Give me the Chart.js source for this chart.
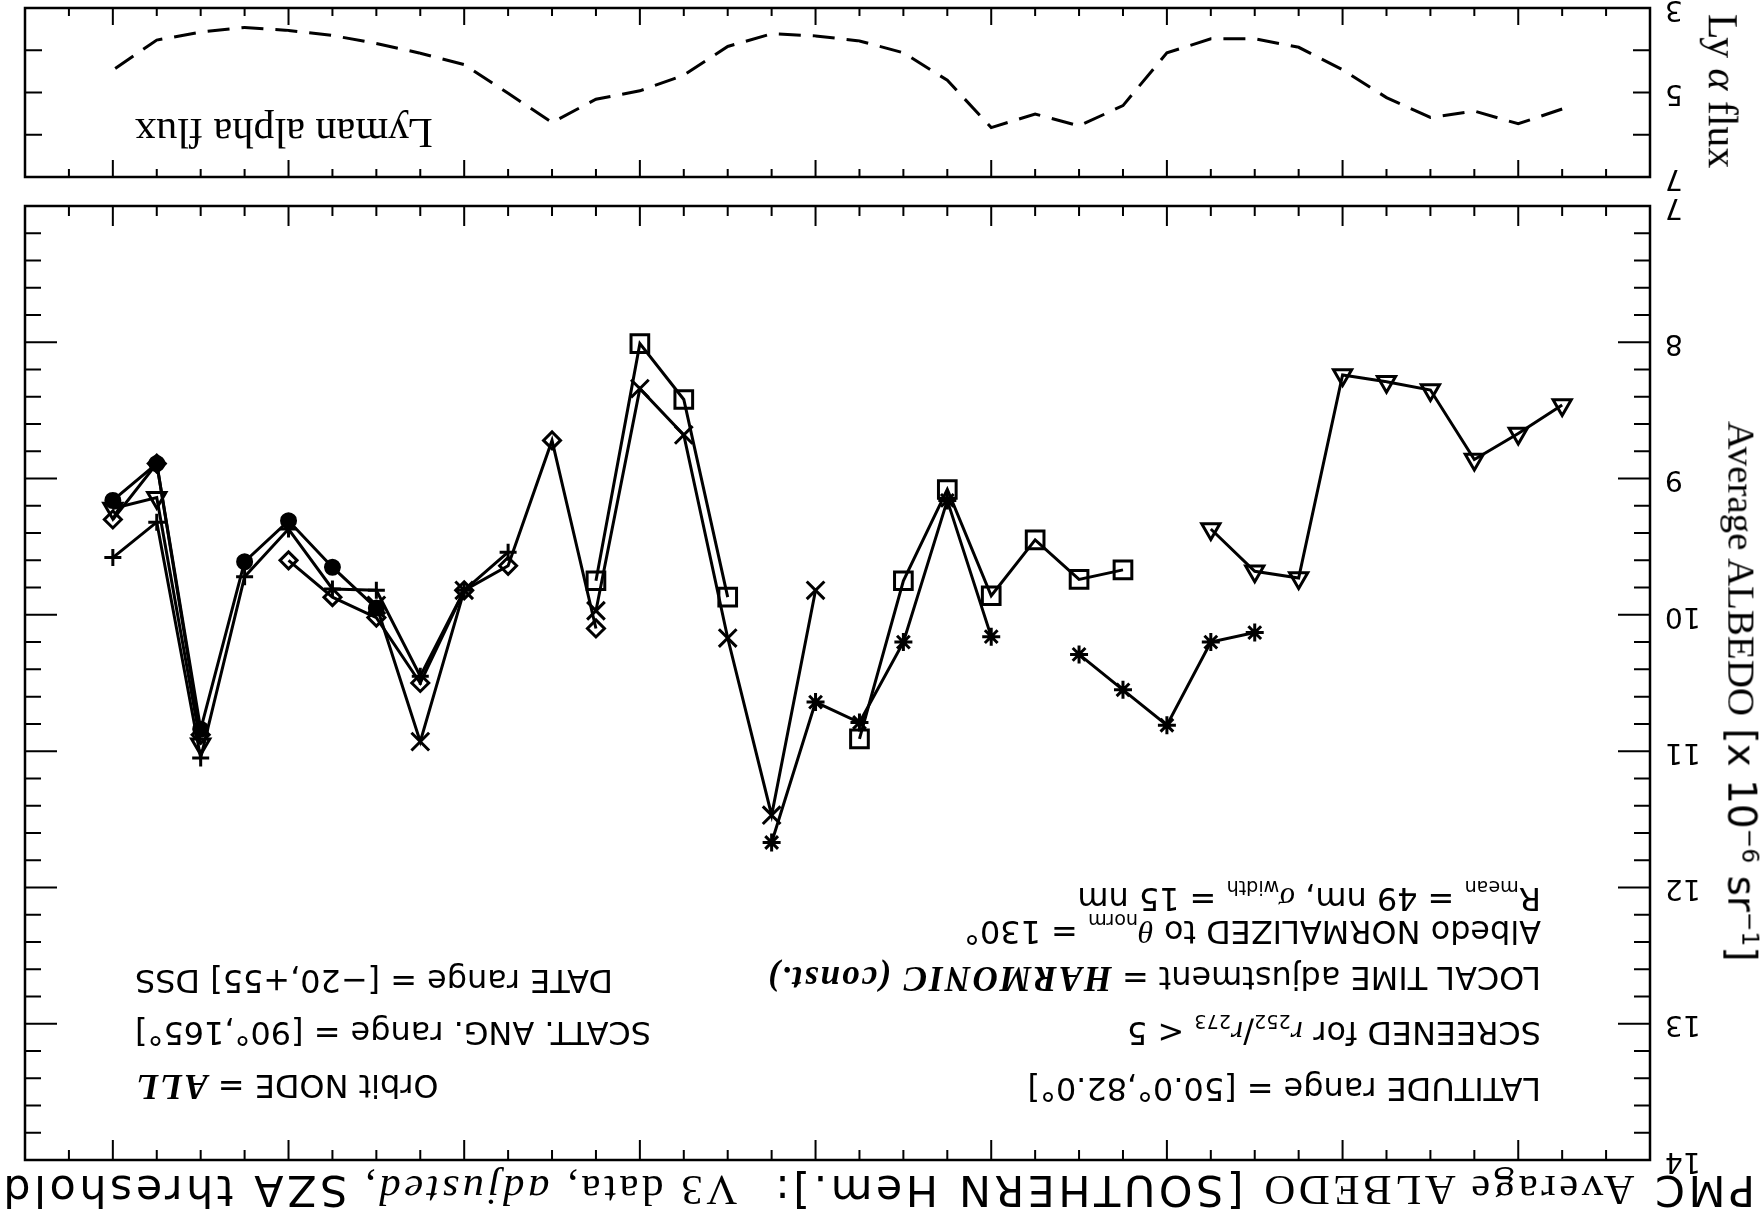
<!DOCTYPE html>
<html lang="en">
<head>
  <meta charset="UTF-8" />
  <title>PMC Average ALBEDO - Southern Hemisphere</title>
  <script src="https://cdn.jsdelivr.net/npm/chart.js"></script>
  <style>
    * { box-sizing: border-box; margin: 0; padding: 0; }
    body { background: #fff; width: 1764px; height: 1217px; overflow: hidden; }
    /* the reference figure is printed upside down, so the whole figure is turned */
    #fig { position: absolute; left: 0; top: 0; width: 1764px; height: 1217px; transform: rotate(180deg); background: #fff; }
    #fig canvas { position: absolute; left: 0; top: 0; }
    .t { position: absolute; white-space: nowrap; line-height: 1; color: #000; font-family: 'DejaVu Sans', sans-serif; }
    .serif { font-family: 'Liberation Serif', serif; }
    .it { font-family: 'Liberation Serif', serif; font-style: italic; }
    .bi { font-family: 'Liberation Serif', serif; font-style: italic; font-weight: bold; font-size: 1.1em; letter-spacing: 0.06em; }
    sub, sup { font-size: 0.6em; line-height: 0; }
    .note { font-size: 30px; }
  </style>
</head>
<body>
  <div id="fig">
    <canvas id="mainChart" width="1764" height="1217"></canvas>
    <canvas id="lyaChart" width="1764" height="1217"></canvas>

    <div class="t" id="title"><span>PMC </span><span class="serif">Average ALBEDO</span><span> [SOUTHERN Hem.]:&nbsp; </span><span class="serif">V3 data, <i>adjusted</i>, </span><span>SZA threshold</span></div>

    <div class="t" id="ytitle" style="font-size:34px"><span class="serif">Average ALBEDO</span> [x 10<sup>−6</sup> sr<sup>−1</sup>]</div>
    <div class="t serif" id="lytitle" style="font-size:34px">Ly <i>α</i> flux</div>

    <div class="t note left" data-y="128" data-w="495">LATITUDE range = [50.0°,82.0°]</div>
    <div class="t note left" data-y="184" data-w="433">SCREENED for <i class="it">r</i><sub>252</sub>/<i class="it">r</i><sub>273</sub> &lt; 5</div>
    <div class="t note left" data-y="236" data-w="753">LOCAL TIME adjustment = <span class="bi">HARMONIC (const.)</span></div>
    <div class="t note left" data-y="285" data-w="536">Albedo NORMALIZED to <i class="it">θ</i><sub>norm</sub> = 130°</div>
    <div class="t note left" data-y="318" data-w="495">R<sub>mean</sub> = 49 nm, <i class="it">σ</i><sub>width</sub> = 15 nm</div>

    <div class="t note right" data-y="128" data-w="287">Orbit NODE = <span class="bi">ALL</span></div>
    <div class="t note right" data-y="184" data-w="517">SCATT. ANG. range = [90°,165°]</div>
    <div class="t note right" data-y="236" data-w="478">DATE range = [−20,+55] DSS</div>

    <div class="t serif" id="lyman" style="font-size:34px">Lyman alpha flux</div>
  </div>

  <script>
    // seasons (year of the southern summer)
    const years = [1979, 1980, 1981, 1982, 1983, 1984, 1985, 1986, 1987, 1988, 1989, 1990,
                   1991, 1992, 1993, 1994, 1995, 1996, 1997, 1998, 1999, 2000, 2001, 2002,
                   2003, 2004, 2005, 2006, 2007, 2008, 2009, 2010, 2011, 2012];

    // Lyman alpha flux, one value per season
    const lyFlux = [5.39, 5.74, 5.44, 5.59, 5.12, 4.46, 3.93, 3.73, 3.73, 4.06, 5.31, 5.79,
                    5.51, 5.83, 4.71, 4.06, 3.78, 3.66, 3.61, 3.91, 4.59, 4.96, 5.16, 5.71,
                    5.02, 4.34, 4.07, 3.84, 3.65, 3.53, 3.46, 3.57, 3.76, 4.47];

    // albedo per instrument: first season + values (null = no data that season)
    const nimbus7Start = 1979;
    const nimbus7 = [8.46, 8.67, 8.86, 8.35, 8.29, 8.24, 9.73, 9.68, 9.37];
    const noaa9Start = 1986;
    const noaa9 = [10.13, 10.20, 10.81, 10.55, 10.29, null, 10.16, 9.16, 10.20, 10.79, 10.64, 11.67];
    const noaa11Start = 1989;
    const noaa11 = [9.67, 9.74, 9.45, 9.86, 9.08, 9.75, 10.91, null, null, 9.87, 8.42, 8.01, 9.75];
    const noaa14Start = 1996;
    const noaa14 = [9.82, 11.47, 10.17, 8.68, 8.34, 9.97, null, null, 9.82, 10.93, 9.93];
    const noaa16Start = 2001;
    const noaa16 = [10.10, 8.72, 9.64, 9.82, 10.50, 10.02, 9.87, 9.60, null, 10.88, 8.89, 9.30];
    const noaa17Start = 2003;
    const noaa17 = [9.54, 9.82, 10.45, 9.82, 9.81, 9.37, 9.72, 11.05, 9.32, 9.58];
    const noaa18Start = 2006;
    const noaa18 = [9.95, 9.65, 9.31, 9.61, 10.84, 8.89, 9.16];
    const noaa19Start = 2010;
    const noaa19 = [10.95, 9.14, 9.22];

    const albedoTicks = [7, 8, 9, 10, 11, 12, 13, 14];
    const lyTicks = [3, 5, 7];

    function series(start, vals, style, radius, filled) {
      return {
        data: vals.map((v, i) => ({ x: start + i, y: v })),
        showLine: true,
        spanGaps: false,
        tension: 0,
        borderColor: '#000',
        borderWidth: 3,
        pointStyle: style,
        pointRadius: radius,
        pointBorderColor: '#000',
        pointBorderWidth: 3,
        pointBackgroundColor: filled ? '#000' : 'rgba(0,0,0,0)'
      };
    }

    // IDL style frame with inward ticks on all four sides
    const frameTicks = {
      id: 'frameTicks',
      afterDatasetsDraw(chart, args, o) {
        const { ctx, chartArea: a } = chart;
        const xs = chart.scales.x, ys = chart.scales.y;
        ctx.save();
        ctx.strokeStyle = '#000';
        ctx.lineWidth = 2;
        ctx.beginPath();
        for (let v = 1978; v <= 2013; v++) {
          const px = xs.getPixelForValue(v);
          const len = (v % 4 === 0) ? o.xMajor : o.xMinor;
          ctx.moveTo(px, a.bottom); ctx.lineTo(px, a.bottom - len);
          ctx.moveTo(px, a.top); ctx.lineTo(px, a.top + len);
        }
        const n = Math.round((ys.max - ys.min) / o.yStep);
        for (let i = 0; i <= n; i++) {
          const py = ys.getPixelForValue(ys.min + i * o.yStep);
          const len = (i % o.yEvery === 0) ? o.yMajor : o.yMinor;
          ctx.moveTo(a.left, py); ctx.lineTo(a.left + len, py);
          ctx.moveTo(a.right, py); ctx.lineTo(a.right - len, py);
        }
        ctx.stroke();
        ctx.lineWidth = 2.5;
        ctx.strokeRect(a.left, a.top, a.right - a.left, a.bottom - a.top);
        ctx.restore();
      }
    };

    function fixAxis(scale) {
      scale.width = 114;
      scale.paddingTop = 0;
      scale.paddingBottom = 0;
    }

    function yAxis(min, max, ticks) {
      return {
        type: 'linear', min: min, max: max,
        afterFit: fixAxis,
        afterBuildTicks: s => { s.ticks = ticks.map(v => ({ value: v })); },
        grid: { display: false, drawTicks: false },
        border: { display: false },
        ticks: { padding: 15, color: '#000', font: { family: 'DejaVu Sans', size: 28 } }
      };
    }

    function baseOptions(pad, yScale, tickOpts) {
      return {
        responsive: false,
        animation: false,
        devicePixelRatio: 1,
        events: [],
        layout: { padding: pad },
        plugins: { legend: { display: false }, tooltip: { enabled: false }, frameTicks: tickOpts },
        scales: {
          x: { type: 'linear', min: 1977, max: 2014, display: false },
          y: yScale
        }
      };
    }

    new Chart(document.getElementById('mainChart'), {
      type: 'scatter',
      data: {
        datasets: [
          series(nimbus7Start, nimbus7, 'triangle', 10.5, false),
          series(noaa9Start, noaa9, 'star', 9, false),
          series(noaa11Start, noaa11, 'rect', 12.5, false),
          series(noaa14Start, noaa14, 'crossRot', 12.5, false),
          series(noaa16Start, noaa16, 'rectRot', 8.5, false),
          series(noaa17Start, noaa17, 'cross', 8.5, false),
          series(noaa18Start, noaa18, 'circle', 7, true),
          series(noaa19Start, noaa19, 'triangle', 10.5, false)
        ]
      },
      options: baseOptions({ left: 0, right: 25, top: 57, bottom: 206 }, yAxis(7, 14, albedoTicks),
        { xMajor: 20, xMinor: 10, yStep: 0.2, yEvery: 5, yMajor: 32, yMinor: 16 }),
      plugins: [frameTicks]
    });

    new Chart(document.getElementById('lyaChart'), {
      type: 'scatter',
      data: {
        datasets: [{
          data: years.map((yr, i) => ({ x: yr, y: lyFlux[i] })),
          showLine: true,
          tension: 0,
          borderColor: '#000',
          borderWidth: 3,
          borderDash: [22, 12],
          pointRadius: 0
        }]
      },
      options: baseOptions({ left: 0, right: 25, top: 1040, bottom: 8 }, yAxis(3, 7, lyTicks),
        { xMajor: 17, xMinor: 8, yStep: 1, yEvery: 1, yMajor: 17, yMinor: 17 }),
      plugins: [frameTicks]
    });

    // ---- text placement ----
    function fit(el, w) {
      const fs = parseFloat(getComputedStyle(el).fontSize);
      return fs * w / el.offsetWidth;
    }

    // title: Hershey-like wide lettering -> smaller font, spread out to full width
    const title = document.getElementById('title');
    const tfs = fit(title, 1755) * 0.86;
    title.style.fontSize = tfs + 'px';
    title.style.letterSpacing = ((1755 - title.offsetWidth) / title.textContent.length) + 'px';
    title.style.left = '9px';
    title.style.top = (26 - 0.48 * tfs) + 'px';

    const notes = Array.from(document.querySelectorAll('.note'));
    const sizes = notes.map(el => fit(el, +el.dataset.w)).sort((a, b) => a - b);
    const nfs = sizes[Math.floor(sizes.length / 2)];
    notes.forEach(el => {
      el.style.fontSize = nfs + 'px';
      el.style.top = (+el.dataset.y - 0.48 * nfs) + 'px';
      if (el.classList.contains('left')) el.style.left = '223px';
      else el.style.right = '135px';
    });

    const lyman = document.getElementById('lyman');
    const lfs = fit(lyman, 298);
    lyman.style.fontSize = lfs + 'px';
    lyman.style.right = '135px';
    lyman.style.top = (1084 - 0.5 * lfs) + 'px';

    function placeRot(el, cx, cy, len) {
      el.style.fontSize = fit(el, len) + 'px';
      const w = el.offsetWidth, h = el.offsetHeight;
      el.style.left = (cx - w / 2) + 'px';
      el.style.top = (cy - h / 2) + 'px';
      el.style.transform = 'rotate(-90deg)';
    }
    placeRot(document.getElementById('ytitle'), 22, 525, 540);
    placeRot(document.getElementById('lytitle'), 42, 1126, 155);
  </script>
</body>
</html>
